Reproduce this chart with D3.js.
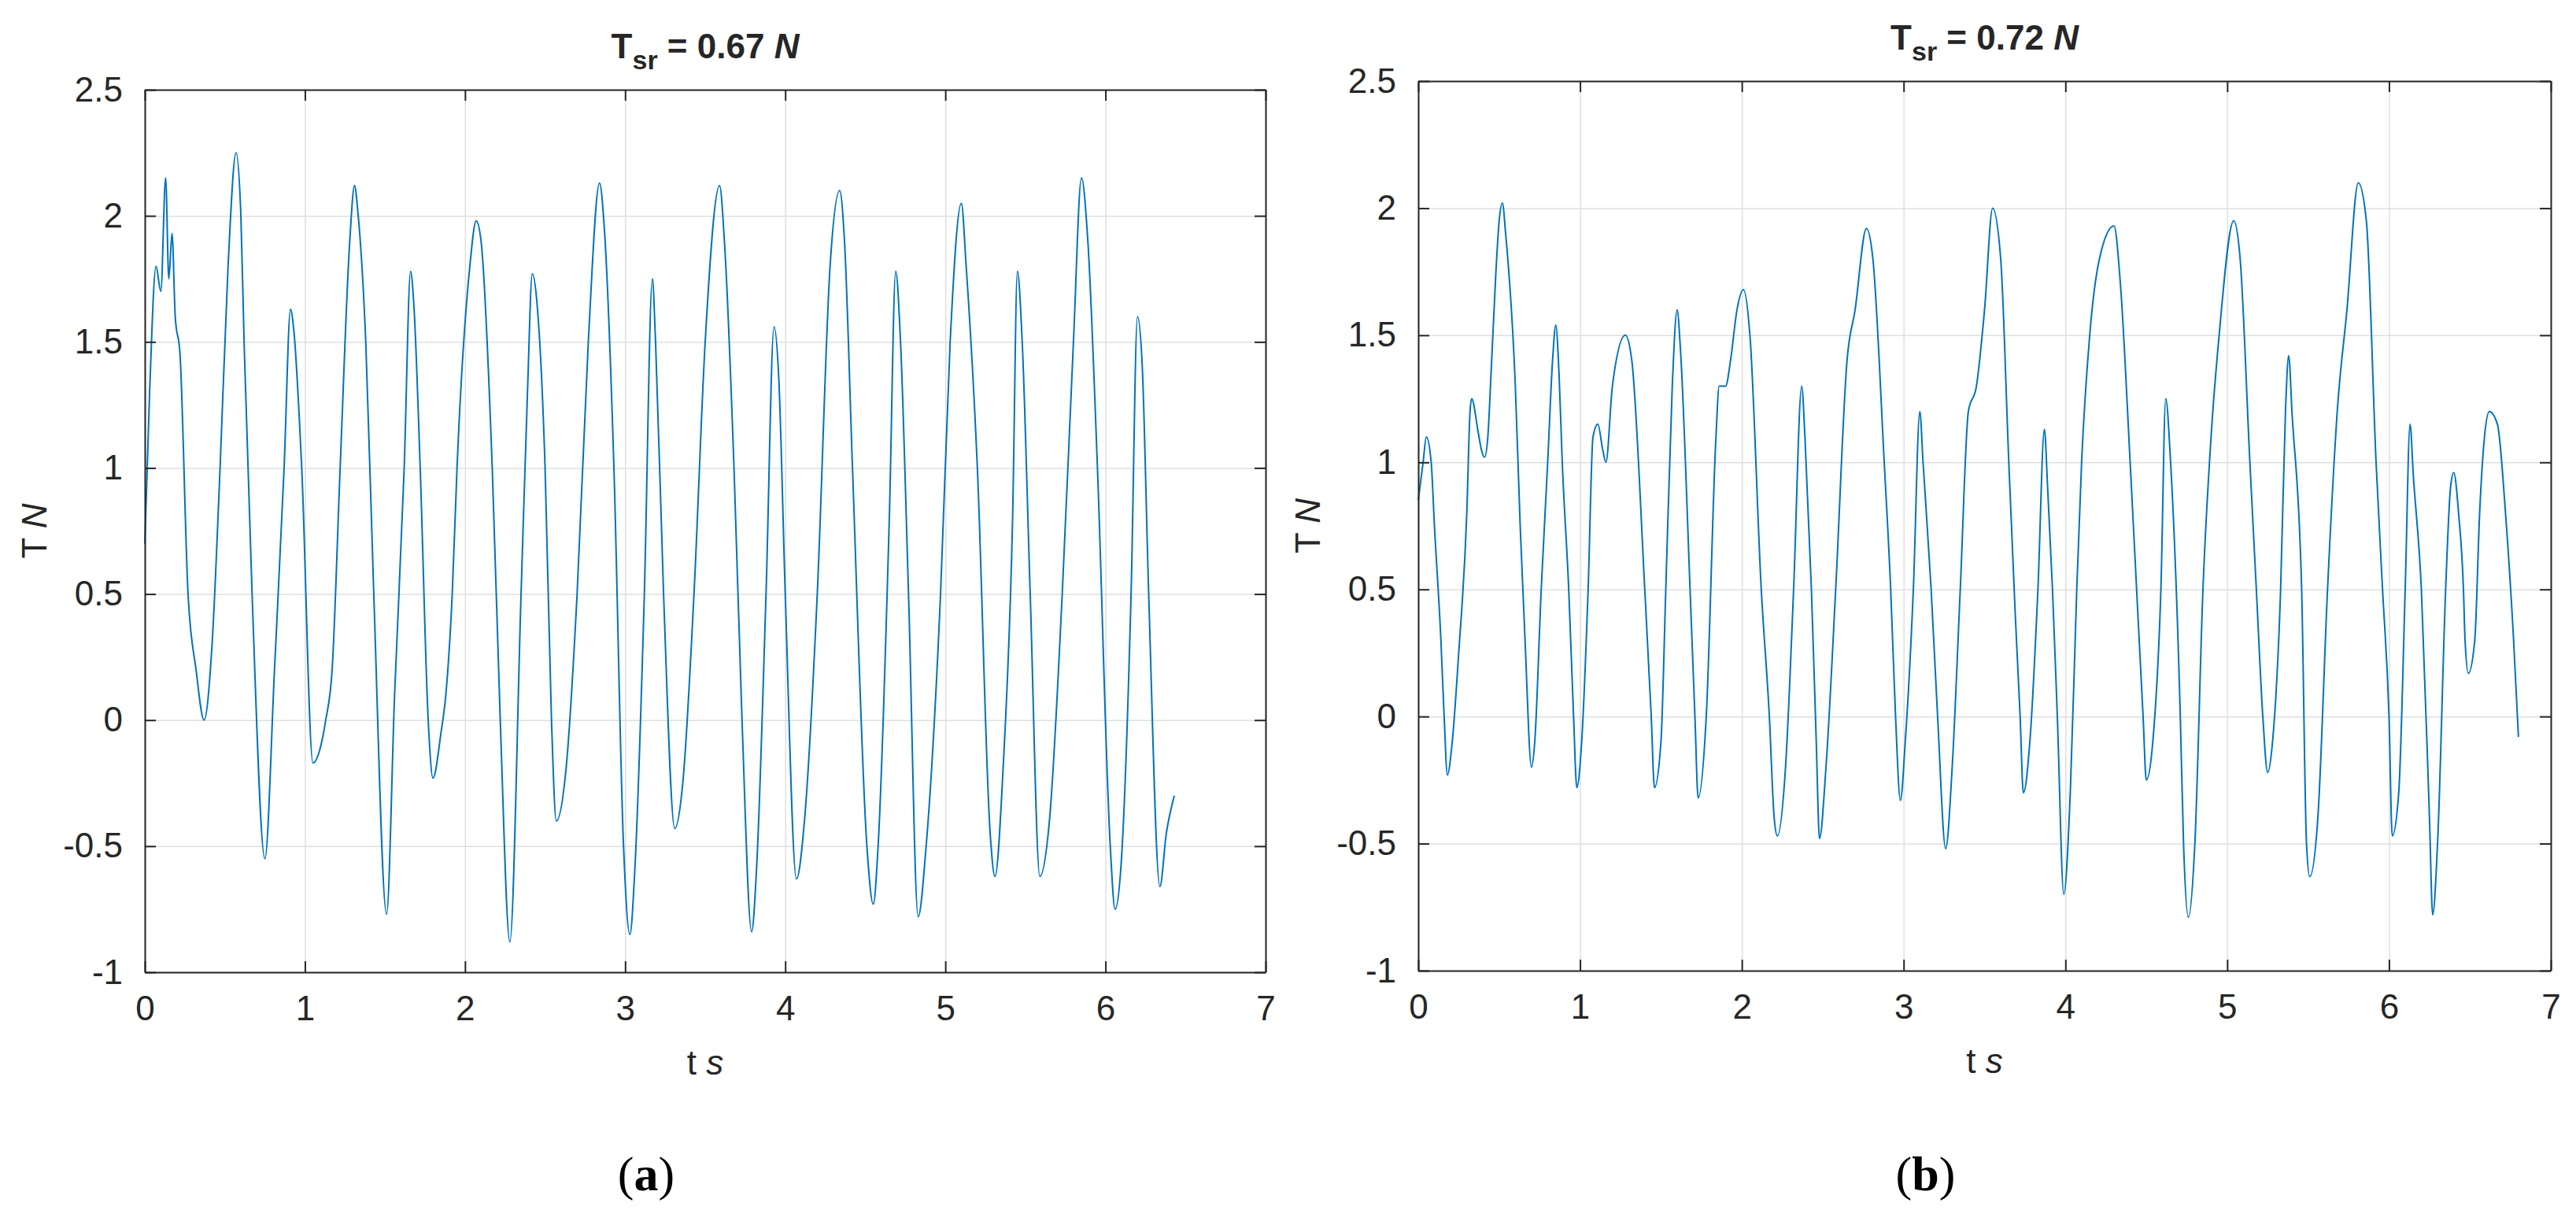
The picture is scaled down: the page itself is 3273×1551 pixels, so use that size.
<!DOCTYPE html>
<html>
<head>
<meta charset="utf-8">
<script src="https://cdn.jsdelivr.net/npm/d3@7.9.0/dist/d3.min.js"></script>
<style>
  body { margin: 0; background: #fff; }
  text { font-family: "Liberation Sans", Arial, sans-serif; fill: #262626; }
</style>
</head>
<body>
<svg id="chart" width="3273" height="1551"></svg>
<script>
// values: [t (s), T (N)]
const seriesA = [
  [0,0.7],[0.03,1.3],[0.07,1.8],[0.1,1.7],[0.13,2.15],[0.15,1.75],[0.17,1.93],[0.19,1.6],[0.22,1.45],[0.27,0.5],
  [0.32,0.2],[0.37,0.0],[0.42,0.3],[0.47,1.0],[0.52,1.8],[0.57,2.25],[0.6,2.0],[0.62,1.5],[0.67,0.5],[0.75,-0.55],
  [0.81,0.2],[0.87,1.0],[0.91,1.63],[0.93,1.55],[0.98,1.0],[1.05,-0.17],[1.1,-0.1],[1.13,0.0],[1.17,0.2],[1.22,1.0],
  [1.28,1.9],[1.31,2.12],[1.33,2.02],[1.38,1.5],[1.43,0.5],[1.51,-0.77],[1.56,0.1],[1.62,1.0],[1.66,1.78],[1.68,1.65],
  [1.72,1.0],[1.77,0.0],[1.8,-0.23],[1.85,-0.05],[1.88,0.1],[1.92,0.5],[1.95,1.0],[2.03,1.8],[2.07,1.98],[2.1,1.9],
  [2.17,1.0],[2.22,0.0],[2.28,-0.88],[2.35,0.5],[2.39,1.3],[2.42,1.77],[2.45,1.65],[2.5,1.0],[2.54,0.0],[2.57,-0.4],
  [2.63,-0.2],[2.7,0.5],[2.77,1.5],[2.84,2.13],[2.87,1.95],[2.93,1.0],[2.99,-0.5],[3.03,-0.85],[3.06,-0.6],[3.12,0.5],
  [3.17,1.75],[3.19,1.5],[3.24,0.5],[3.31,-0.43],[3.36,-0.25],[3.43,0.5],[3.5,1.5],[3.59,2.12],[3.62,1.9],[3.68,1.0],
  [3.73,0.0],[3.79,-0.84],[3.82,-0.6],[3.88,0.5],[3.93,1.56],[3.96,1.35],[4.0,0.5],[4.07,-0.63],[4.12,-0.4],[4.2,0.5],
  [4.28,1.8],[4.34,2.1],[4.37,1.9],[4.42,1.0],[4.51,-0.5],[4.55,-0.73],[4.58,-0.5],[4.65,0.8],[4.69,1.78],[4.72,1.5],
  [4.77,0.5],[4.83,-0.78],[4.88,-0.5],[4.97,0.5],[5.03,1.5],[5.1,2.05],[5.13,1.8],[5.2,1.0],[5.28,-0.45],[5.31,-0.62],
  [5.36,-0.2],[5.42,0.8],[5.45,1.78],[5.48,1.5],[5.53,0.5],[5.59,-0.62],[5.65,-0.4],[5.73,0.5],[5.8,1.5],[5.85,2.15],
  [5.89,1.9],[5.95,1.0],[6.03,-0.5],[6.06,-0.75],[6.1,-0.55],[6.16,0.5],[6.2,1.6],[6.23,1.4],[6.27,0.5],[6.34,-0.66],
  [6.38,-0.45],[6.43,-0.3]
];
const seriesB = [
  [0,0.85],[0.03,1.0],[0.05,1.1],[0.08,1.0],[0.1,0.75],[0.14,0.3],[0.16,0.0],[0.18,-0.23],[0.21,-0.1],[0.25,0.25],
  [0.3,0.8],[0.32,1.2],[0.33,1.25],[0.37,1.12],[0.39,1.05],[0.41,1.02],[0.43,1.1],[0.45,1.35],[0.48,1.75],[0.5,1.95],
  [0.52,2.02],[0.54,1.9],[0.6,1.3],[0.63,0.75],[0.66,0.3],[0.7,-0.2],[0.72,-0.1],[0.76,0.5],[0.8,1.0],[0.83,1.4],
  [0.85,1.54],[0.87,1.35],[0.89,1.0],[0.93,0.5],[0.96,0.0],[0.98,-0.28],[1.01,-0.1],[1.05,0.5],[1.08,1.1],[1.11,1.15],
  [1.14,1.05],[1.16,1.0],[1.2,1.3],[1.28,1.5],[1.32,1.4],[1.4,0.5],[1.44,0.0],[1.46,-0.28],[1.5,-0.1],[1.53,0.5],
  [1.57,1.3],[1.6,1.6],[1.62,1.45],[1.68,0.5],[1.71,0.0],[1.73,-0.32],[1.78,0.0],[1.84,1.1],[1.86,1.3],[1.9,1.3],
  [1.93,1.4],[1.97,1.6],[2.01,1.68],[2.05,1.5],[2.12,0.5],[2.17,0.0],[2.2,-0.4],[2.22,-0.47],[2.27,-0.2],[2.32,0.5],
  [2.37,1.3],[2.39,1.1],[2.43,0.5],[2.46,-0.1],[2.48,-0.48],[2.52,-0.2],[2.58,0.5],[2.65,1.4],[2.7,1.6],[2.77,1.92],
  [2.81,1.8],[2.88,1.0],[2.92,0.5],[2.95,0.0],[2.98,-0.33],[3.01,-0.1],[3.06,0.5],[3.1,1.2],[3.12,1.0],[3.17,0.5],
  [3.21,0.0],[3.26,-0.52],[3.3,-0.2],[3.35,0.5],[3.4,1.2],[3.45,1.3],[3.5,1.6],[3.55,2.0],[3.6,1.8],[3.65,1.0],
  [3.69,0.4],[3.72,0.0],[3.74,-0.3],[3.78,-0.1],[3.83,0.5],[3.87,1.13],[3.89,0.9],[3.92,0.5],[3.95,0.0],[3.99,-0.7],
  [4.03,-0.3],[4.07,0.5],[4.1,1.0],[4.15,1.5],[4.21,1.8],[4.3,1.93],[4.34,1.7],[4.4,1.0],[4.44,0.5],[4.48,0.0],
  [4.5,-0.25],[4.54,-0.1],[4.59,0.5],[4.62,1.25],[4.65,1.0],[4.71,0.0],[4.73,-0.5],[4.76,-0.79],[4.8,-0.5],[4.85,0.5],
  [4.9,1.1],[4.95,1.5],[5.04,1.95],[5.08,1.8],[5.14,1.0],[5.18,0.5],[5.22,0.0],[5.25,-0.22],[5.28,-0.1],[5.33,0.5],
  [5.36,1.2],[5.38,1.42],[5.4,1.2],[5.46,0.5],[5.49,-0.5],[5.51,-0.63],[5.56,-0.4],[5.62,0.5],[5.68,1.2],[5.74,1.6],
  [5.81,2.1],[5.86,1.95],[5.92,1.0],[5.96,0.5],[6.0,0.0],[6.02,-0.47],[6.06,-0.3],[6.1,0.5],[6.13,1.15],[6.15,0.95],
  [6.2,0.5],[6.25,-0.4],[6.27,-0.78],[6.3,-0.5],[6.35,0.5],[6.38,0.9],[6.4,0.96],[6.43,0.8],[6.46,0.5],[6.47,0.3],
  [6.49,0.17],[6.53,0.3],[6.56,0.8],[6.59,1.1],[6.62,1.2],[6.67,1.15],[6.72,0.8],[6.77,0.3],[6.8,-0.08]
];
const xTicks = [0, 1, 2, 3, 4, 5, 6, 7];
const yTicks = [-1, -0.5, 0, 0.5, 1, 1.5, 2, 2.5];
const panels = [
  { data: seriesA, value: '0.67', tag: 'a', left: 184, right: 1608, top: 114, bottom: 1235 },
  { data: seriesB, value: '0.72', tag: 'b', left: 1802, right: 3241, top: 103, bottom: 1233 }
];

const fmt = d => String(d); // plain hyphen minus, like the original

const svg = d3.select('#chart');

panels.forEach(p => {
  const x = d3.scaleLinear().domain([0, 7]).range([p.left, p.right]);
  const y = d3.scaleLinear().domain([-1, 2.5]).range([p.bottom, p.top]);
  const g = svg.append('g');
  const w = p.right - p.left, h = p.bottom - p.top;
  const cx = (p.left + p.right) / 2;

  // grid
  g.append('g').attr('transform', `translate(0,${p.bottom})`)
    .call(d3.axisBottom(x).tickValues(xTicks).tickSize(-h).tickFormat(''))
    .call(a => a.select('.domain').remove())
    .selectAll('line').attr('stroke', '#dfdfdf').attr('stroke-width', 1.5);
  g.append('g').attr('transform', `translate(${p.left},0)`)
    .call(d3.axisLeft(y).tickValues(yTicks).tickSize(-w).tickFormat(''))
    .call(a => a.select('.domain').remove())
    .selectAll('line').attr('stroke', '#dfdfdf').attr('stroke-width', 1.5);

  // line
  g.append('path').datum(p.data)
    .attr('fill', 'none').attr('stroke', '#0072BD').attr('stroke-width', 2)
    .attr('d', d3.line().x(d => x(d[0])).y(d => y(d[1])).curve(d3.curveMonotoneX));

  // axes with inward ticks
  const ax = (gen, tx) => g.append('g').attr('transform', tx).call(gen)
    .call(a => a.select('.domain').attr('stroke', '#262626').attr('stroke-width', 2))
    .call(a => a.selectAll('line').attr('stroke', '#262626').attr('stroke-width', 2));
  ax(d3.axisBottom(x).tickValues(xTicks).tickSizeInner(-14).tickSizeOuter(0).tickPadding(30).tickFormat(fmt), `translate(0,${p.bottom})`)
    .selectAll('text').attr('font-size', 44);
  ax(d3.axisTop(x).tickValues(xTicks).tickSizeInner(-14).tickSizeOuter(0).tickFormat(''), `translate(0,${p.top})`);
  ax(d3.axisLeft(y).tickValues(yTicks).tickSizeInner(-14).tickSizeOuter(0).tickPadding(28).tickFormat(fmt), `translate(${p.left},0)`)
    .selectAll('text').attr('font-size', 44);
  ax(d3.axisRight(y).tickValues(yTicks).tickSizeInner(-14).tickSizeOuter(0).tickFormat(''), `translate(${p.right},0)`);

  // title
  const t = g.append('text').attr('x', cx).attr('y', p.top - 40).attr('text-anchor', 'middle')
    .attr('font-size', 44).attr('font-weight', 'bold');
  t.append('tspan').text('T');
  t.append('tspan').attr('font-size', 34).attr('dy', 14).text('sr');
  t.append('tspan').attr('dy', -14).text(` = ${p.value} `);
  t.append('tspan').attr('font-style', 'italic').text('N');

  // axis labels
  const xl = g.append('text').attr('x', cx).attr('y', p.bottom + 130).attr('text-anchor', 'middle').attr('font-size', 44);
  xl.append('tspan').text('t  ');
  xl.append('tspan').attr('font-style', 'italic').text('s');
  const yl = g.append('text').attr('transform', `translate(${p.left - 125},${(p.top + p.bottom) / 2}) rotate(-90)`)
    .attr('text-anchor', 'middle').attr('font-size', 44);
  yl.append('tspan').text('T  ');
  yl.append('tspan').attr('font-style', 'italic').text('N');

  // panel tag
  const tg = g.append('text').attr('x', cx - 75).attr('y', 1512).attr('text-anchor', 'middle')
    .attr('font-size', 62).style('font-family', '"Liberation Serif", "DejaVu Serif", serif').style('fill', '#000');
  tg.append('tspan').text('(');
  tg.append('tspan').attr('font-weight', 'bold').text(p.tag);
  tg.append('tspan').text(')');
});
</script>
</body>
</html>
